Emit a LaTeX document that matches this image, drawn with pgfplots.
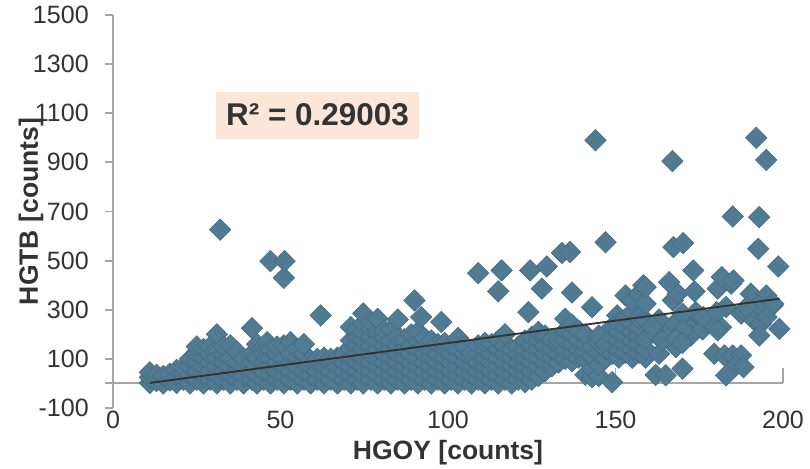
\documentclass[border=0pt]{standalone}
\usepackage{fontspec}
\setmainfont{Liberation Sans}
\usepackage{pgfplots}
\pgfplotsset{compat=1.18}
\definecolor{pt}{RGB}{80,123,146}
\definecolor{ptd}{RGB}{68,106,128}
\definecolor{axg}{RGB}{166,166,166}
\definecolor{txt}{RGB}{51,51,51}
\definecolor{rbox}{RGB}{252,230,216}
\begin{document}
\begin{tikzpicture}
\begin{axis}[
  name=ax,
  set layers,
  scale only axis,
  width=502.5pt, height=294.75pt,
  xmin=0, xmax=200, ymin=-100, ymax=1500,
  xtick={0,50,...,200}, ytick={-100,100,...,1500},
  axis lines=left,
  axis line style={-},
  x axis line style={draw=none},
  y axis line style={draw=axg, line width=1.4pt},
  xtick style={draw=none},
  ytick style={draw=axg, line width=1.4pt},
  tick align=outside,
  major tick length=6pt,
  clip=false,
  /pgf/number format/assume math mode=true,
  /pgf/number format/1000 sep={},
  tick label style={font=\fontsize{18.8}{20}\selectfont, text=txt},
  xticklabel style={anchor=north, inner sep=0pt, yshift=3.75pt},
  yticklabel style={anchor=east, inner sep=0pt, xshift=-12pt},
  every axis x label/.style={at={(rel axis cs:0.5,0)}, anchor=base, yshift=-39pt},
  every axis y label/.style={at={(rel axis cs:0,0.5)}, rotate=90, anchor=base, yshift=56.25pt},
  label style={font=\bfseries\fontsize{19.9}{21}\selectfont, text=txt},
  xlabel={HGOY [counts]},
  ylabel={HGTB [counts]},
]
\draw[axg, line width=1.4pt] ([xshift=-6pt]axis cs:0,0) -- (axis cs:200,0);
\pgfplotsinvokeforeach{50,100,150,200}{\draw[axg, line width=1.4pt] (axis cs:#1,0) -- ++(0,-6.5pt);}
\addplot[only marks, mark=square*, mark size=5.7pt, mark options={rotate=45, fill=pt, draw=ptd, line width=0.4pt}] coordinates {
(11,2)(11,25)(11,45)
(13,10)(13,35)
(15,0)(15,30)
(17,12)(17,40)
(19,2)(19,30)(19,55)
(21,15)(21,45)(21,65)
(23,0)(23,35)(23,70)(23,100)
(25,15)(25,50)(25,85)(25,120)(25,150)
(27,0)(27,35)(27,70)(27,105)(27,140)
(29,15)(29,50)(29,85)(29,120)(29,150)
(31,0)(31,35)(31,70)(31,105)(31,140)(31,200)
(32,626)
(33,15)(33,50)(33,85)(33,120)(33,150)
(35,0)(35,35)(35,70)(35,105)(35,155)
(37,15)(37,50)(37,85)(37,130)
(39,0)(39,35)(39,70)(39,100)
(41.5,15)(41.5,50)(41.5,85)(41.5,120)(41.5,225)
(43,0)(43,35)(43,70)(43,105)(43,160)
(45,15)(45,50)(45,85)(45,120)(45,150)
(46,168)
(47,0)(47,35)(47,70)(47,105)(47,140)(47,498)
(49,15)(49,50)(49,85)(49,120)(49,150)
(51,0)(51,35)(51,70)(51,105)(51,155)(51,430)(51.2,498)
(53,15)(53,50)(53,85)(53,120)(53,168)
(55,0)(55,35)(55,70)(55,105)(55,140)
(57,15)(57,50)(57,85)(57,120)(57,160)
(59,0)(59,35)(59,70)(59,95)
(61,15)(61,50)(61,85)(61,100)
(62,277)
(63,0)(63,35)(63,70)(63,105)
(65,15)(65,50)(65,85)(65,100)
(67,0)(67,35)(67,70)(67,105)
(69,15)(69,50)(69,85)(69,120)
(71,0)(71,35)(71,70)(71,105)(71,140)(71,175)(71,229)
(73,15)(73,50)(73,85)(73,120)(73,155)(73,190)(73,220)
(74.7,0)(74.7,35)(74.7,70)(74.7,105)(74.7,140)(74.7,175)(74.7,210)(74.7,245)(74.7,285)
(77,15)(77,50)(77,85)(77,120)(77,155)(77,190)(77,225)(77,250)
(79,0)(79,35)(79,70)(79,105)(79,140)(79,175)(79,210)(79,263)
(81,15)(81,50)(81,85)(81,120)(81,155)(81,190)(81,215)
(83,0)(83,35)(83,70)(83,105)(83,140)(83,175)(83,220)
(85,15)(85,50)(85,85)(85,120)(85,155)(85,190)(85,260)
(87,0)(87,35)(87,70)(87,105)(87,140)(87,180)
(89,15)(89,50)(89,85)(89,120)(89,155)(89,200)
(90,338)
(91,0)(91,35)(91,70)(91,105)(91,140)(91,175)(91,210)
(92,270)
(93,15)(93,50)(93,85)(93,120)(93,155)(93,185)
(95,0)(95,35)(95,70)(95,105)(95,140)(95,175)
(97,15)(97,50)(97,85)(97,120)(97,160)
(98,250)
(99,0)(99,35)(99,70)(99,105)(99,140)(99,165)
(101,15)(101,50)(101,85)(101,120)(101,155)
(103,0)(103,35)(103,70)(103,105)(103,140)(103,185)
(105,15)(105,50)(105,85)(105,120)(105,150)
(107,0)(107,35)(107,70)(107,105)(107,125)
(109,15)(109,50)(109,85)(109,120)(109,155)(109,449)
(111,0)(111,35)(111,70)(111,105)(111,140)(111,165)
(113,15)(113,50)(113,85)(113,120)(113,160)
(115,0)(115,35)(115,70)(115,105)(115,140)(115,175)(115,375)
(116,460)
(117,15)(117,50)(117,85)(117,120)(117,155)(117,200)
(119,0)(119,35)(119,70)(119,105)(119,140)
(121,15)(121,50)(121,85)(121,120)(121,150)
(123,5)(123,35)(123,70)(123,105)(123,140)(123,175)
(124,290)(124.5,460)
(125,15)(125,50)(125,85)(125,120)(125,155)(125,190)
(127,30)(127,70)(127,105)(127,140)(127,175)(127,210)
(128,386)
(129,50)(129,85)(129,120)(129,155)(129,195)
(129.5,476)
(131,70)(131,105)(131,140)(131,180)
(133,85)(133,120)(133,155)(133,175)
(134,531)
(135,100)(135,140)(135,175)(135,215)(135,263)
(136.4,535)
(137,90)(137,125)(137,160)(137,200)(137,240)(137,370)
(139,105)(139,140)(139,175)(139,215)
(141,35)(141,95)(141,130)(141,160)(141,200)
(143,25)(143,60)(143,110)(143,150)(143,310)
(144,990)
(145,30)(145,75)(145,125)(145,165)(145,195)
(147,575)(147,100)(147,140)(147,160)
(149,5)(149,120)(149,155)(149,190)(149,230)
(150.5,277)
(151,105)(151,140)(151,175)(151,210)(151,245)
(153,125)(153,160)(153,195)(153,230)(153,263)(153,358)
(155,105)(155,140)(155,175)(155,210)(155,245)(155,290)(155,338)
(157,125)(157,160)(157,195)(157,230)(157,265)(157,365)
(158.3,399)
(159,105)(159,140)(159,180)(159,257)(159,324)(159,392)
(162,35)(165,33)(170,60)(163,121)(168,148)
(165,229)(167.6,243)(171.6,229)(174,243)(175.8,263)(172.5,195)(174,290)(170,284)(167.1,338)(168.6,365)(173.6,375)(166,412)(173.2,460)(170.2,216)(167.3,555)(170.2,571)(167,905)
(162,200)(164,175)(168,180)(170,165)(176,220)(178,250)(163,260)(161,230)
(180.5,386)(184.5,406)(183,311)(181.5,229)(180.5,216)(187.5,284)(188.4,297)(191.4,257)(193.4,243)(190.4,365)(195,358)(195.4,304)(196.9,318)(192.9,195)(198.9,222)
(179.5,121)(182.5,114)(185,114)(187.5,114)(186,73)(183,33)(188.2,66)(181.7,433)(185.2,419)(192.6,548)(198.6,476)(185,680)(192.9,677)(192,1000)(195,910)
(192.6,318)(197.1,324)(195.1,270)(176.2,270)(180.2,290)(189.2,311)
};
\addplot[no marks, color=txt, line width=1.4pt, on layer=axis foreground] coordinates {(11,2) (199,345)};
\node[fill=rbox, inner sep=0pt, minimum width=152.25pt, minimum height=35.25pt, anchor=north west, font=\bfseries\fontsize{23.6}{25}\selectfont, text=txt] at (axis cs:30.7,1189) {R² = 0.29003};
\end{axis}
\pgfresetboundingbox
\path ([shift={(-84.75pt,-45.75pt)}]ax.south west) rectangle ([shift={(20.25pt,11.25pt)}]ax.north east);
\end{tikzpicture}
\end{document}
